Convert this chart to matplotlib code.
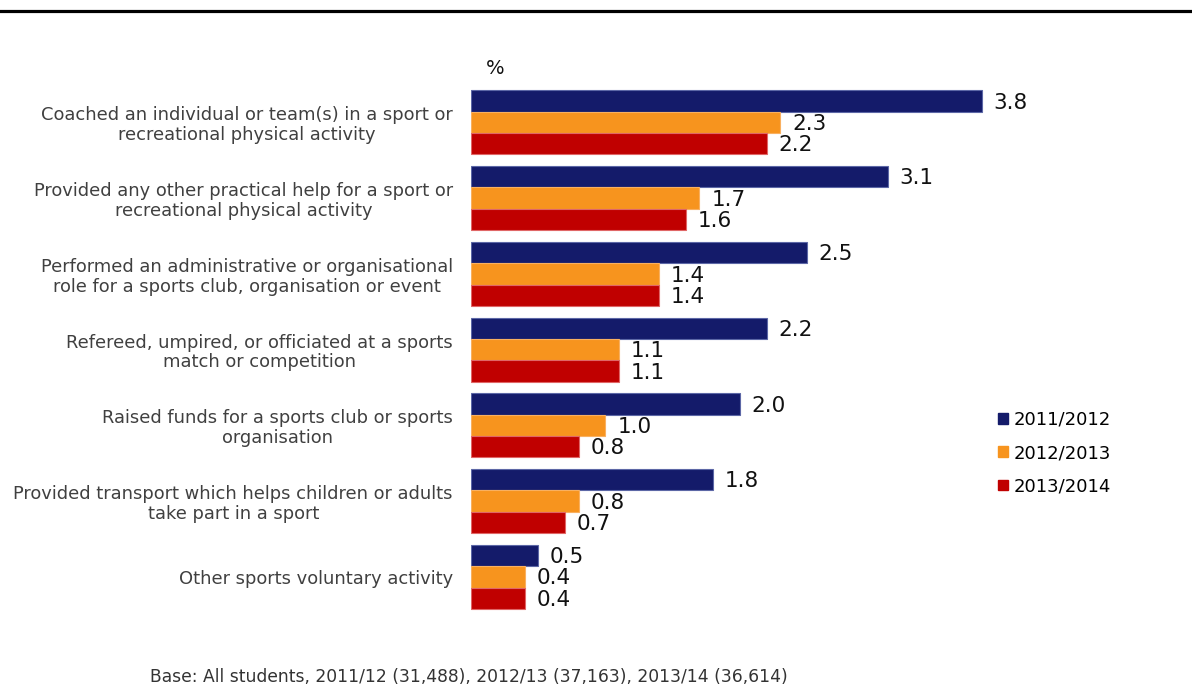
import matplotlib
matplotlib.use("Agg")
import matplotlib.pyplot as plt
from matplotlib.patches import Patch
import numpy as np

plt.rcParams['font.family'] = ['DejaVu Sans']

categories = [
    "Coached an individual or team(s) in a sport or\nrecreational physical activity",
    "Provided any other practical help for a sport or\nrecreational physical activity",
    "Performed an administrative or organisational\nrole for a sports club, organisation or event",
    "Refereed, umpired, or officiated at a sports\nmatch or competition",
    "Raised funds for a sports club or sports\norganisation",
    "Provided transport which helps children or adults\ntake part in a sport",
    "Other sports voluntary activity",
]
years = ["2011/2012", "2012/2013", "2013/2014"]
values_2011 = [3.8, 3.1, 2.5, 2.2, 2.0, 1.8, 0.5]
values_2012 = [2.3, 1.7, 1.4, 1.1, 1.0, 0.8, 0.4]
values_2013 = [2.2, 1.6, 1.4, 1.1, 0.8, 0.7, 0.4]
base_note = "Base: All students, 2011/12 (31,488), 2012/13 (37,163), 2013/14 (36,614)"

colors = ["#141B6A", "#F7941E", "#C00000"]
edges = ["#5C67A6", "#F9B060", "#E06666"]

W, H = 1192, 700
fig = plt.figure(figsize=(W / 100, H / 100), dpi=100)

# axes placed in pixel terms
left_px, right_px, top_px, bottom_px = 471, 1143, 80, 620
ax = fig.add_axes([left_px / W, 1 - bottom_px / H,
                   (right_px - left_px) / W, (bottom_px - top_px) / H])

y = np.arange(len(categories))
h = 0.282
series = [values_2011, values_2012, values_2013]
for k, (vals, lab) in enumerate(zip(series, years)):
    bars = ax.barh(y + (k - 1) * h, vals, height=h, color=colors[k],
                   edgecolor=edges[k], linewidth=0.8, label=lab)
    anns = ax.bar_label(bars, labels=[f"{v:.1f}" for v in vals], padding=9,
                        fontsize=15.5, color="#111111")
    for a in anns:
        a.xyann = (8.5, -1.2)

ax.set_xlim(0, 5.0)
ax.set_ylim(6.57, -0.56)
ax.set_yticks(y)
ax.set_yticklabels(categories, fontsize=12.9, color="#404040",
                   multialignment="center", linespacing=1.13)
ax.tick_params(axis="y", length=0, pad=13)
ax.tick_params(axis="x", bottom=False, labelbottom=False)
for s in ax.spines.values():
    s.set_visible(False)

fig.text(486 / W, 1 - 69 / H, "%", fontsize=14, color="#111111",
         ha="left", va="center")

handles = [Patch(facecolor=c, edgecolor=c) for c in colors]
fig.legend(handles, years, loc="center left",
           bbox_to_anchor=(982 / W, 1 - 453 / H), frameon=False,
           fontsize=13, handlelength=0.55, handleheight=0.55,
           handletextpad=0.3, labelspacing=0.85)

fig.text(150 / W, 1 - 677 / H, base_note, fontsize=12.3, color="#333333",
         ha="left", va="center")

# rule under the heading
fig.add_artist(plt.Line2D([0, 1], [1 - 10.5 / H, 1 - 10.5 / H],
                          transform=fig.transFigure, color="black",
                          linewidth=2.3))

fig.savefig("out.png", dpi=100)
